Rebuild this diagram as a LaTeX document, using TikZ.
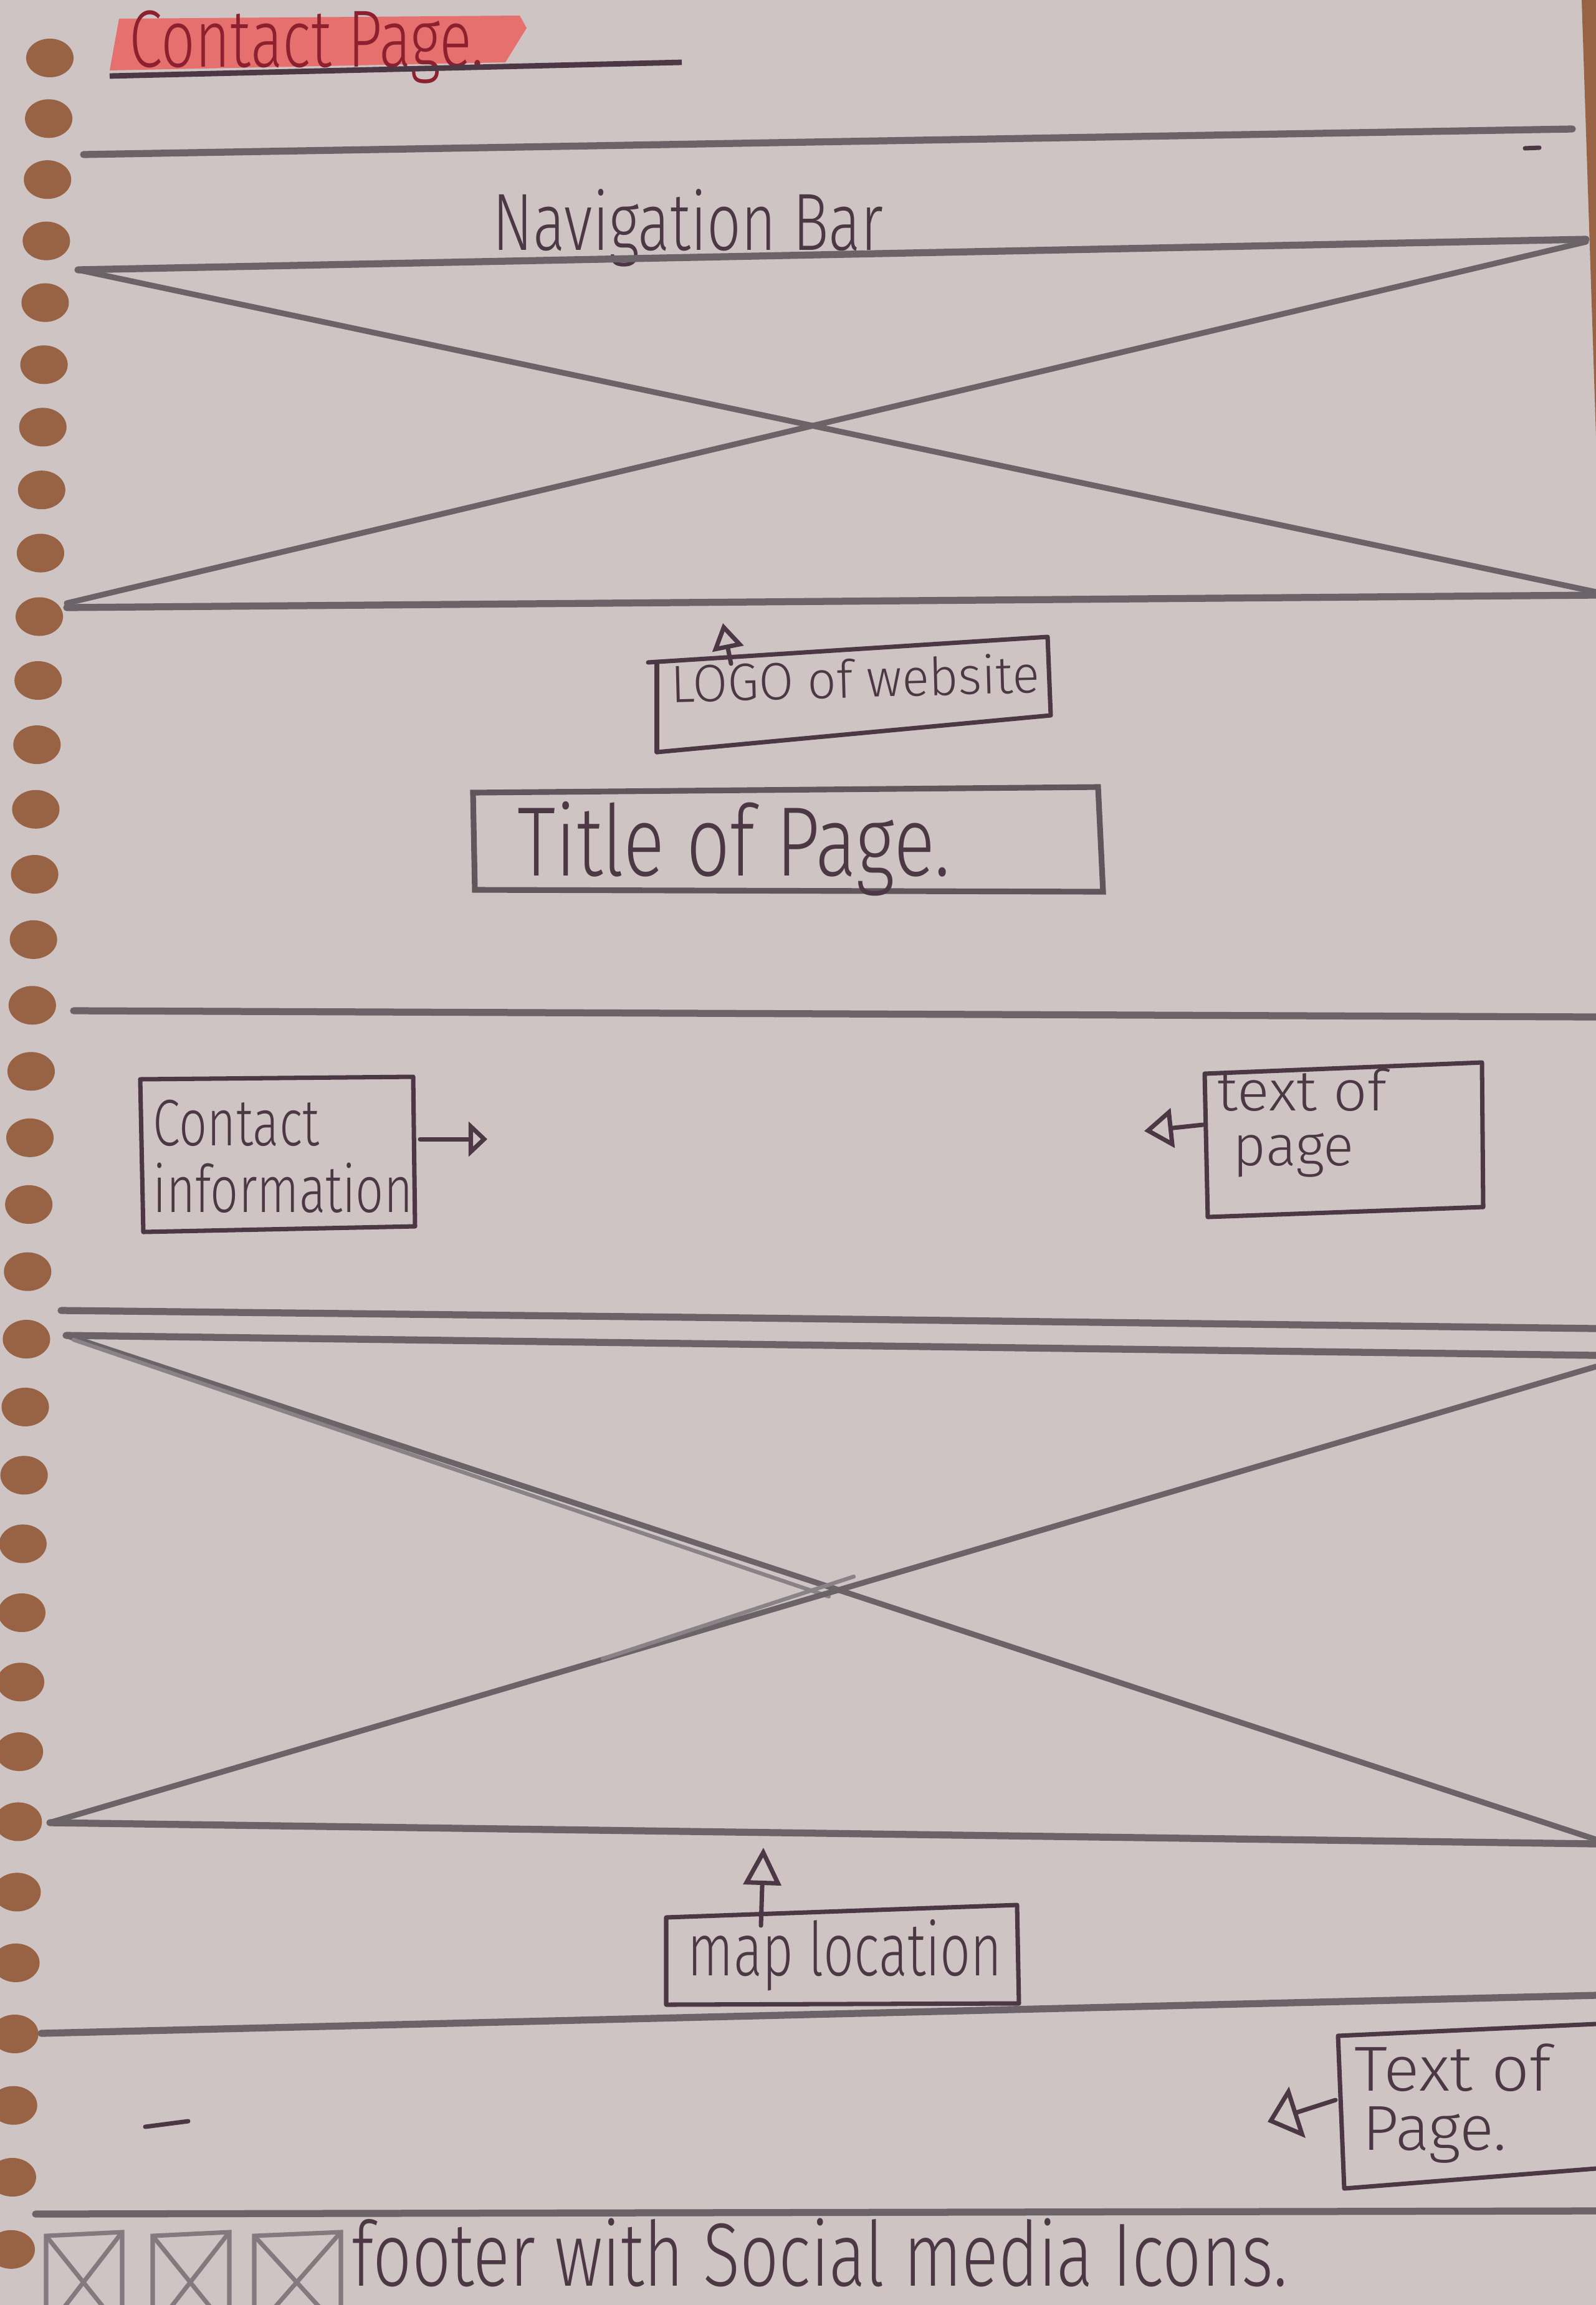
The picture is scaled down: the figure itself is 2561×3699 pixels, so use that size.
\documentclass[tikz,border=0pt]{standalone}
\usepackage{fontspec}
\newfontfamily\handfont{Fira Sans Light}
\usetikzlibrary{arrows.meta}
\definecolor{paper}{RGB}{205,196,195}
\definecolor{hole}{RGB}{152,98,68}
\definecolor{pencil}{RGB}{108,99,104}
\definecolor{ink}{RGB}{76,56,68}
\definecolor{marker}{RGB}{229,112,110}
\definecolor{redink}{RGB}{140,32,46}
\def\squeeze#1#2{\scalebox{#1}[1]{#2}}
\tikzset{
	pen/.style={line width=2pt, color=ink, line join=round, line cap=round},
	lead/.style={line width=3.2pt, color=pencil, line cap=round},
	hand/.style={font=\handfont, color=ink, inner sep=0pt, anchor=base west},
	pointer/.style n args={2}{pen, -{Triangle[open, length=#1, width=#2]}}
}

\begin{document}
\begin{tikzpicture}[x=0.01cm, y=-0.01cm]
			%%%%% START %%%%%
			\clip (0,0) rectangle (2561,3699);
			\fill[paper] (0,0) rectangle (2561,3699);
			\fill[hole] (2538,0) -- (2561,0) -- (2561,700) -- cycle;
			
			% holes of the spiral
			\foreach \k in {0,...,33}{
				\pgfmathsetmacro{\hy}{93+97*\k+0.29*\k*\k}
				\pgfmathsetmacro{\hx}{80-62*\k/33}
				\fill[hole] (\hx,\hy) ellipse [x radius=0.38cm, y radius=0.31cm];
			}
			
			% heading
			\fill[marker] (191,30) -- (834,25) -- (845,45) -- (811,100) -- (176,113) -- cycle;
			\node[hand, color=redink, font=\handfont\fontsize{37}{37}\selectfont] (heading) at (207,107) {\squeeze{0.74}{Contact Page.}};
			\draw[line width=2.5pt, color=ink] (176,122) -- (1094,100);
			
			\draw[lead] (134,248) -- (2523,207);
			\draw[pen] (2447,238) -- (2470,237);
			
			% navigation bar
			\node[hand, font=\handfont\fontsize{37}{37}\selectfont] (navlbl) at (790,401) {\squeeze{0.74}{Navigation Bar}};
			\draw[lead] (125,433) -- (2545,384);
			\draw[lead] (107,975) -- (2561,955);
			\draw[lead, line width=2.6pt] (125,433) -- (2561,950);
			\draw[lead, line width=2.6pt] (107,968) -- (2545,388);
			
			% logo
			\draw[pen] (1040,1063) -- (1681,1022) -- (1686,1148) -- (1054,1207);
			\draw[pen] (1054,1066) -- (1054,1207);
			\node[hand, rotate=1.5, font=\handfont\fontsize{24}{24}\selectfont] (logolbl) at (1077,1127) {\squeeze{0.96}{LOGO of website}};
			\coordinate (logostem) at (1173,1065);
			\coordinate (logotip) at (1160,1000);
			\draw[pointer={0.42cm}{0.5cm}] (logostem) -- (logotip);
			
			% title
			\draw[line width=2.6pt, color=pencil!70!ink] (759,1272) -- (1762,1263) -- (1770,1431) -- (762,1428) -- cycle;
			\node[hand, font=\handfont\fontsize{45}{45}\selectfont] (pagelbl) at (830,1405) {\squeeze{0.78}{Title of Page.}};
			
			\draw[lead] (118,1622) -- (2561,1632);
			
			% contact information
			\draw[pen] (225,1732) -- (663,1728) -- (666,1968) -- (230,1977) -- cycle;
			\node[hand, font=\handfont\fontsize{30}{30}\selectfont] (contact) at (245,1838) {\squeeze{0.75}{Contact}};
			\node[hand, font=\handfont\fontsize{30}{30}\selectfont] (info) at (245,1945) {\squeeze{0.75}{information}};
			\coordinate (ctcstem) at (674,1828);
			\coordinate (ctctip) at (782,1828);
			\draw[pointer={0.3cm}{0.55cm}] (ctcstem) -- (ctctip);
			
			% text of page
			\draw[pen] (1933,1723) -- (2378,1705) -- (2380,1937) -- (1938,1953) -- cycle;
			\node[hand, font=\handfont\fontsize{26}{26}\selectfont] (textup) at (1953,1782) {\squeeze{1.05}{text of}};
			\node[hand, font=\handfont\fontsize{26}{26}\selectfont] (pageup) at (1978,1870) {page};
			\coordinate (txtstem) at (1930,1805);
			\coordinate (txttip) at (1836,1815);
			\draw[pointer={0.46cm}{0.63cm}] (txtstem) -- (txttip);
			
			% map
			\draw[lead] (98,2103) -- (1200,2115) -- (2561,2132);
			\draw[lead] (106,2143) -- (2561,2175);
			\draw[lead, line width=2.6pt] (106,2143) -- (2561,2952);
			\draw[lead, line width=1.8pt, color=pencil!80] (118,2150) -- (1330,2562);
			\draw[lead, line width=2.6pt] (83,2924) -- (2561,2193);
			\draw[lead, line width=1.8pt, color=pencil!80] (967,2662) -- (1370,2530);
			\draw[lead] (80,2925) -- (2561,2959);
			
			\draw[pen] (1069,3077) -- (1632,3057) -- (1635,3215) -- (1069,3217) -- cycle;
			\node[hand, font=\handfont\fontsize{34}{34}\selectfont] (maplbl) at (1103,3170) {\squeeze{0.72}{map location}};
			\coordinate (mapstem) at (1221,3090);
			\coordinate (maptip) at (1225,2965);
			\draw[pointer={0.6cm}{0.6cm}] (mapstem) -- (maptip);
			
			\draw[lead] (66,3263) -- (2561,3202);
			\draw[pen] (233,3413) -- (302,3404);
			
			% text of page, lower
			\draw[pen] (2561,3248) -- (2147,3267) -- (2157,3512) -- (2561,3480);
			\node[hand, font=\handfont\fontsize{29}{29}\selectfont] (textlow) at (2173,3355) {\squeeze{1.05}{Text of}};
			\node[hand, font=\handfont\fontsize{29}{29}\selectfont] (pagelow) at (2186,3450) {Page.};
			\coordinate (lowstem) at (2143,3370);
			\coordinate (lowtip) at (2034,3405);
			\draw[pointer={0.5cm}{0.85cm}] (lowstem) -- (lowtip);
			
			% footer
			\draw[lead] (57,3553) -- (2561,3548);
			\foreach \l/\r in {74/196, 245/368, 408/547}{
				\draw[line width=2pt, color=pencil!85] (\l,3740) -- (\l,3588) -- (\r,3582) -- (\r,3740);
				\draw[line width=2pt, color=pencil!85] (\l,3588) -- (\r,3740);
				\draw[line width=2pt, color=pencil!85] (\r,3582) -- (\l,3740);
			}
			\node[hand, font=\handfont\fontsize{41}{41}\selectfont] (footlbl) at (564,3668) {\squeeze{0.76}{footer with Social media Icons.}};
			%%%%% END %%%%%
\end{tikzpicture}
\end{document}
